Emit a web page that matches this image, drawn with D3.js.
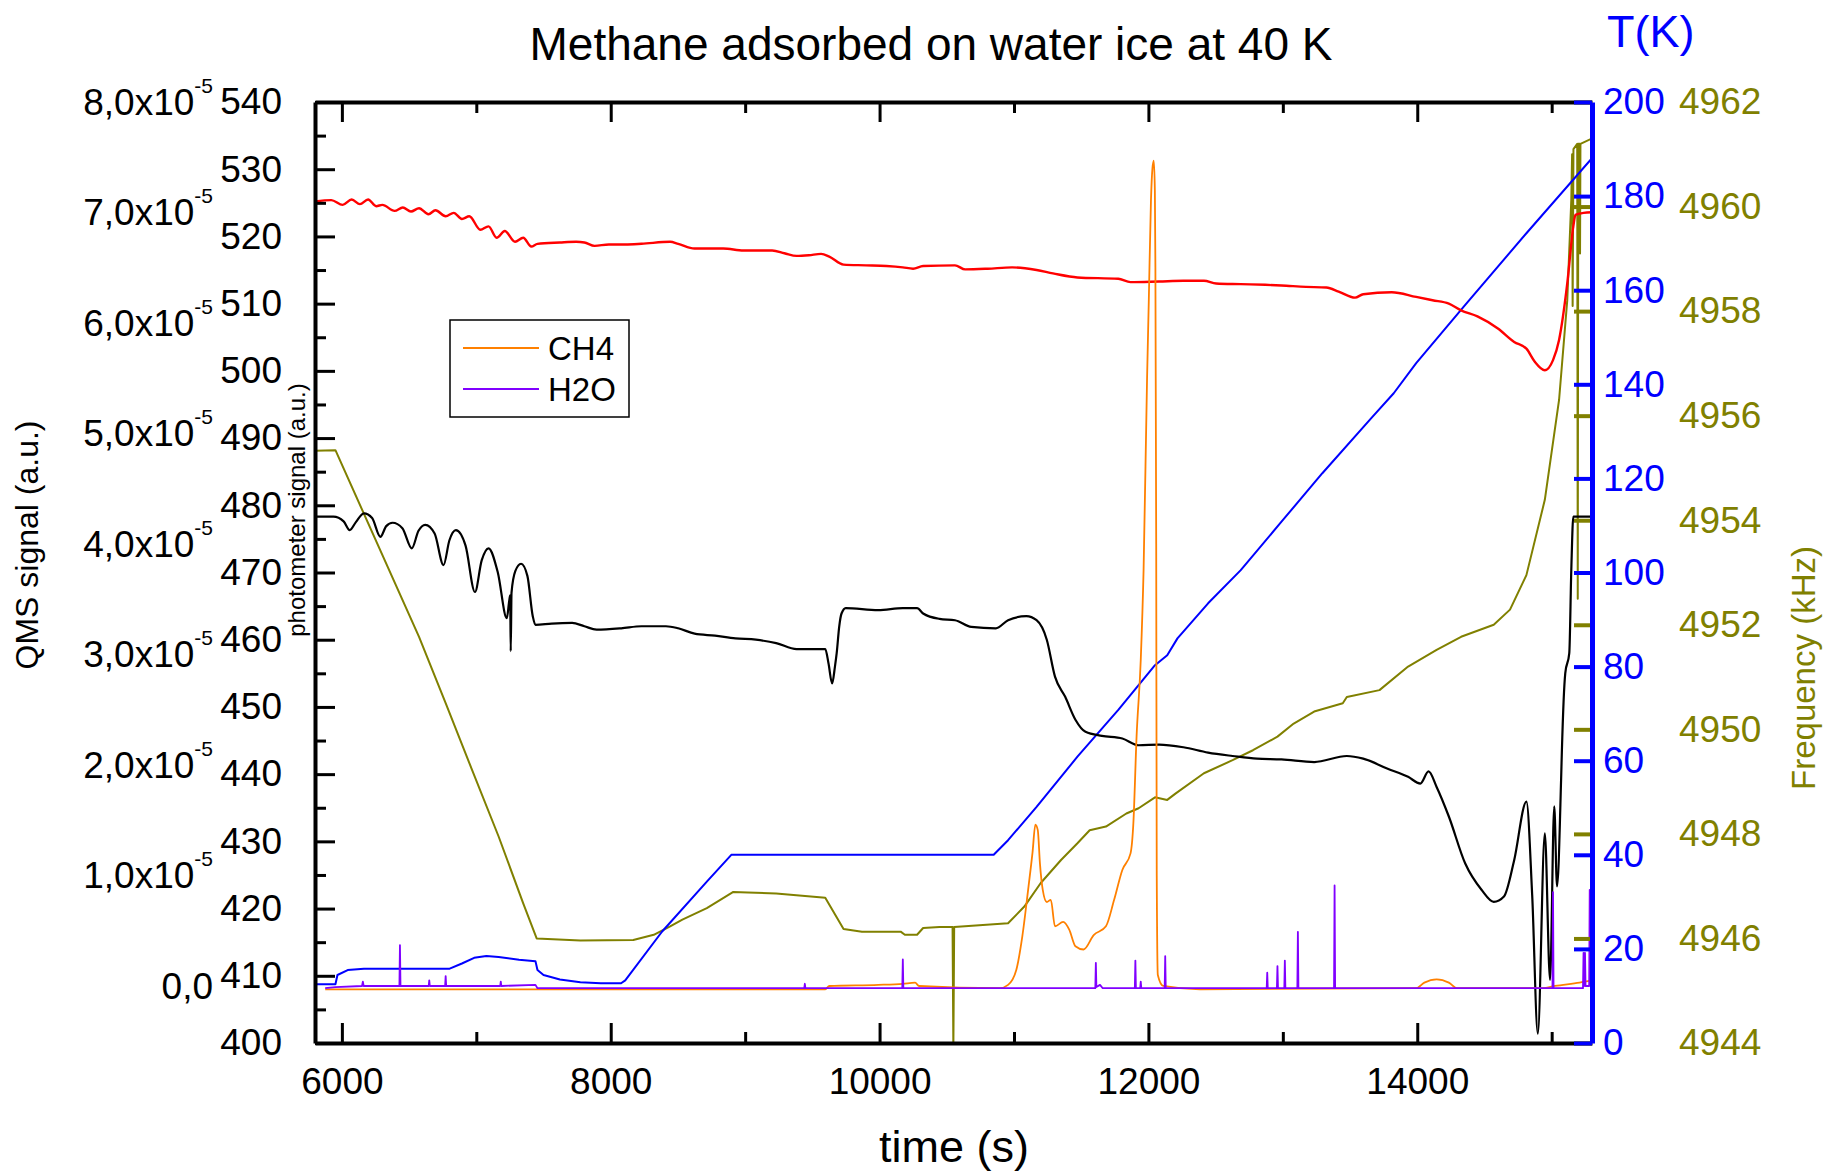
<!DOCTYPE html>
<html><head><meta charset="utf-8">
<script src="https://cdn.jsdelivr.net/npm/d3@7"></script>
<style>body{margin:0;background:#fff}svg{display:block}text{font-family:"Liberation Sans",Arial,sans-serif}</style>
</head><body>
<script>
// ---------- data ----------
const xTicks = [6000, 8000, 10000, 12000, 14000];
const xMinorTicks = [7000, 9000, 11000, 13000, 15000];
const photTicks = [400,410,420,430,440,450,460,470,480,490,500,510,520,530,540];
const photMinorTicks = [405,415,425,435,445,455,465,475,485,495,505,515,525,535];
const qmsTicks = [0,1,2,3,4,5,6,7,8];          // x10^-5
const tempTicks = [0,20,40,60,80,100,120,140,160,180,200];
const freqTicks = [4944,4946,4948,4950,4952,4954,4956,4958,4960,4962];

// photometer signal (red trace), [time s, a.u.]
const photRed = [[5800,525.2],[5921,525.4],[6006,524.7],[6073,525.5],[6134,524.8],[6195,525.5],[6255,524.5],[6301,524.7],[6392,523.8],[6453,524.3],[6514,523.7],[6574,524.2],[6644,523.3],[6696,523.9],[6772,523.0],[6832,523.5],[6893,522.6],[6948,523.0],[7030,521.0],[7091,521.5],[7151,519.8],[7212,520.8],[7288,519.2],[7349,519.8],[7409,518.5],[7455,518.9],[7622,519.1],[7743,519.2],[7804,519.1],[7880,518.6],[7986,518.8],[8108,518.8],[8229,518.9],[8442,519.2],[8502,518.9],[8624,518.2],[8837,518.2],[8988,517.9],[9201,517.9],[9292,517.5],[9383,517.1],[9474,517.2],[9565,517.4],[9626,517.0],[9732,515.8],[9899,515.7],[10051,515.6],[10173,515.4],[10249,515.2],[10324,515.6],[10561,515.7],[10637,515.1],[10804,515.2],[10986,515.4],[11168,515.0],[11290,514.5],[11472,513.9],[11776,513.7],[11867,513.2],[12079,513.3],[12261,513.4],[12413,513.4],[12504,513.0],[12687,512.9],[12869,512.8],[12990,512.7],[13172,512.5],[13324,512.4],[13415,511.8],[13537,510.9],[13598,511.4],[13810,511.7],[13992,511.0],[14114,510.5],[14235,510.0],[14326,509.0],[14448,508.1],[14600,506.3],[14721,504.3],[14812,503.3],[14873,501.4],[14949,500.1],[15010,501.6],[15055,504.6],[15116,513.0],[15161,521.5],[15177,523.2],[15237,523.5],[15298,523.6]];

// photometer signal (black trace)
const photBlack = [[5800,478.3],[5937,478.3],[6013,477.6],[6058,476.3],[6104,477.5],[6164,478.8],[6225,478.1],[6286,475.3],[6330,476.9],[6377,477.4],[6450,476.6],[6520,473.6],[6570,476.2],[6620,477.1],[6690,475.8],[6756,471.1],[6800,474.8],[6848,476.3],[6920,474.0],[6990,467.1],[7040,471.8],[7091,473.6],[7160,470.0],[7227,463.2],[7245,465.8],[7252,466.6],[7256,458.3],[7262,467.0],[7290,470.2],[7333,471.3],[7380,469.5],[7420,463.5],[7440,462.2],[7561,462.4],[7713,462.5],[7804,462.0],[7895,461.5],[8078,461.7],[8229,462.0],[8411,462.0],[8502,461.7],[8624,460.9],[8776,460.6],[8928,460.2],[9080,460.0],[9231,459.5],[9383,458.6],[9596,458.6],[9620,456.5],[9647,453.5],[9668,456.0],[9681,458.0],[9700,462.0],[9717,463.9],[9748,464.7],[9990,464.4],[10173,464.7],[10279,464.7],[10324,463.9],[10446,463.1],[10561,462.9],[10682,461.9],[10865,461.7],[10956,462.9],[11092,463.5],[11168,462.9],[11244,460.0],[11305,454.5],[11381,451.5],[11457,448.1],[11532,446.3],[11654,445.7],[11806,445.3],[11927,444.3],[12079,444.4],[12261,444.0],[12444,443.2],[12626,442.7],[12808,442.3],[12990,442.2],[13233,441.8],[13476,442.7],[13598,442.3],[13780,440.8],[13932,439.6],[14023,438.6],[14084,440.4],[14144,438.1],[14235,433.7],[14357,426.7],[14478,422.8],[14569,421.0],[14645,421.8],[14721,427.2],[14812,435.9],[14855,422.0],[14897,401.4],[14949,431.2],[14988,409.4],[15019,435.2],[15040,423.3],[15070,439.1],[15076,443.5],[15101,455.0],[15131,458.0],[15146,470.4],[15161,478.3],[15298,478.3]];

// QMS CH4 signal (x10^-5 a.u.)
const ch4 = [[5876,-0.03],[9596,-0.03],[9626,0.0],[9990,0.01],[10173,0.02],[10264,0.03],[10294,0.0],[10895,-0.02],[10956,0.01],[11017,0.145],[11062,0.45],[11108,0.90],[11138,1.21],[11159,1.46],[11177,1.41],[11193,1.11],[11214,0.87],[11244,0.76],[11274,0.78],[11305,0.54],[11366,0.58],[11411,0.51],[11457,0.36],[11518,0.33],[11593,0.46],[11684,0.54],[11745,0.78],[11806,1.05],[11867,1.20],[11888,1.47],[11912,2.26],[11943,2.95],[11964,3.76],[11990,5.5],[12003,6.21],[12019,7.11],[12030,7.4],[12040,7.47],[12048,7.2],[12052,6.5],[12058,4.0],[12062,1.0],[12070,0.1],[12110,0.0],[12383,-0.03],[13992,-0.02],[14053,0.03],[14144,0.06],[14235,0.03],[14296,-0.02],[14933,-0.02],[15025,0.0],[15207,0.03],[15298,0.05]];

// QMS H2O signal (x10^-5 a.u.)
const h2o = [[5876,-0.02],[5952,-0.01],[6150,0.0],[6156,0.04],[6162,0.0],[6428,0.0],[6432,0.37],[6436,0.0],[6646,0.0],[6650,0.05],[6654,0.0],[6768,0.0],[6772,0.09],[6776,0.0],[7178,0.0],[7182,0.04],[7186,0.0],[7440,0.01],[7455,-0.02],[9440,-0.02],[9444,0.02],[9448,-0.02],[10169,-0.02],[10173,0.24],[10177,-0.02],[11605,-0.02],[11609,0.21],[11613,-0.01],[11640,0.01],[11660,-0.02],[11899,-0.02],[11903,0.23],[11907,-0.02],[11939,-0.02],[11943,0.04],[11947,-0.02],[12121,-0.02],[12125,0.27],[12129,-0.02],[12880,-0.02],[12884,0.12],[12888,-0.02],[12956,-0.02],[12960,0.18],[12964,-0.02],[13011,-0.02],[13015,0.23],[13019,-0.02],[13108,-0.02],[13112,0.49],[13116,-0.02],[13381,-0.02],[13385,0.91],[13389,-0.02],[15006,-0.02],[15010,0.85],[15014,-0.02],[15233,-0.02],[15237,0.30],[15241,0.0],[15248,0.30],[15252,0.0],[15279,0.0],[15283,0.87],[15287,0.05],[15298,0.05]];

// temperature (K)
const temperature = [[5800,12.5],[5952,12.5],[5967,14.45],[6043,15.5],[6164,15.8],[6802,15.8],[6893,16.9],[6984,18.1],[7075,18.5],[7166,18.3],[7318,17.7],[7440,17.4],[7455,15.5],[7500,14.45],[7622,13.5],[7774,12.9],[7926,12.7],[8077,12.7],[8108,13.3],[8381,23.65],[8715,34.3],[8897,40.0],[10561,40.0],[10849,40.0],[10956,43.1],[11168,50.2],[11472,60.85],[11776,70.8],[12049,80.3],[12140,82.4],[12216,86.0],[12444,93.45],[12687,100.5],[12990,110.8],[13294,121.1],[13658,132.8],[13825,138.1],[13992,144.5],[14357,156.9],[14812,172.1],[15298,188.0]];

// QCM frequency (kHz)
const frequency = [[5800,4955.33],[5952,4955.34],[6574,4951.77],[6772,4950.50],[6969,4949.22],[7166,4947.95],[7349,4946.67],[7449,4946.00],[7774,4945.96],[8168,4945.97],[8320,4946.07],[8442,4946.23],[8533,4946.36],[8715,4946.58],[8912,4946.89],[9019,4946.88],[9231,4946.86],[9596,4946.78],[9732,4946.18],[9869,4946.13],[10157,4946.13],[10188,4946.07],[10279,4946.07],[10324,4946.20],[10446,4946.22],[10543,4946.22],[10549,4943.9],[10555,4946.22],[10956,4946.29],[11077,4946.61],[11199,4947.06],[11350,4947.50],[11472,4947.82],[11563,4948.07],[11684,4948.14],[11836,4948.39],[11927,4948.49],[12049,4948.70],[12140,4948.65],[12201,4948.77],[12413,4949.16],[12626,4949.41],[12778,4949.60],[12960,4949.86],[13081,4950.11],[13233,4950.34],[13446,4950.50],[13476,4950.62],[13719,4950.75],[13932,4951.20],[14144,4951.52],[14326,4951.77],[14569,4952.0],[14690,4952.29],[14812,4952.95],[14949,4954.39],[15055,4956.30],[15116,4958.21],[15146,4960.13],[15152,4961.0],[15156,4958.1],[15162,4961.1],[15190,4961.2],[15194,4952.5],[15198,4961.2],[15208,4961.2],[15211,4959.1],[15214,4961.2],[15298,4961.3]];

const legendItems = [["CH4","#ff8000"],["H2O","#8000ff"]];

// ---------- layout ----------
const W = 1826, H = 1175;
const L = 315, R = 1592, T = 102, B = 1043;
const OLIVE = "#808000", BLUE = "#0000ff";
const FS = 37;

const x = d3.scaleLinear().domain([5800, 15300]).range([L, R]);
const yPhot = d3.scaleLinear().domain([400, 540]).range([B, T]);
const yQ = d3.scaleLinear().domain([-0.516e-5, 8e-5]).range([B, T]);
const yT = d3.scaleLinear().domain([0, 200]).range([B, T]);
const yF = d3.scaleLinear().domain([4944, 4962]).range([B, T]);

const svg = d3.select("body").append("svg").attr("width", W).attr("height", H);
svg.append("rect").attr("width", W).attr("height", H).attr("fill", "#fff");

svg.append("clipPath").attr("id","clip").append("rect")
  .attr("x", L).attr("y", T).attr("width", R - L).attr("height", B - T);

function styleAxis(g, color, width, fs, showDomain) {
  g.selectAll(".tick line").attr("stroke", color).attr("stroke-width", width);
  g.selectAll(".tick text").attr("fill", color).attr("font-size", fs)
    .attr("font-family", '"Liberation Sans", Arial, sans-serif');
  if (showDomain) g.select(".domain").attr("stroke", color).attr("stroke-width", width + 1);
  else g.select(".domain").remove();
}

// ---------- data lines ----------
const gData = svg.append("g").attr("clip-path", "url(#clip)");
function drawLine(data, yScale, color, width, factor, curve) {
  const line = d3.line().x(d => x(d[0])).y(d => yScale(d[1] * factor)).curve(curve || d3.curveLinear);
  gData.append("path").datum(data).attr("d", line).attr("fill", "none")
    .attr("stroke", color).attr("stroke-width", width).attr("stroke-linejoin", "round");
}
drawLine(frequency, yF, OLIVE, 2, 1);
drawLine(temperature, yT, BLUE, 2, 1);
drawLine(photBlack, yPhot, "#000", 2.2, 1, d3.curveMonotoneX);
drawLine(photRed, yPhot, "#ff0000", 2.4, 1, d3.curveMonotoneX);
drawLine(ch4, yQ, "#ff8000", 1.8, 1e-5, d3.curveMonotoneX);
drawLine(h2o, yQ, "#8000ff", 1.8, 1e-5);

// ---------- axes ----------
// bottom
const gB = svg.append("g").attr("transform", `translate(0,${B})`)
  .call(d3.axisBottom(x).tickValues(xTicks).tickSizeInner(-20).tickSizeOuter(0).tickPadding(25).tickFormat(d3.format("d")));
styleAxis(gB, "#000", 3, FS, true);
const gBm = svg.append("g").attr("transform", `translate(0,${B})`)
  .call(d3.axisBottom(x).tickValues(xMinorTicks).tickSizeInner(-11).tickSizeOuter(0).tickFormat(() => ""));
styleAxis(gBm, "#000", 3, FS, false);
// top
const gTp = svg.append("g").attr("transform", `translate(0,${T})`)
  .call(d3.axisTop(x).tickValues(xTicks).tickSizeInner(-20).tickSizeOuter(0).tickFormat(() => ""));
styleAxis(gTp, "#000", 3, FS, true);
const gTm = svg.append("g").attr("transform", `translate(0,${T})`)
  .call(d3.axisTop(x).tickValues(xMinorTicks).tickSizeInner(-11).tickSizeOuter(0).tickFormat(() => ""));
styleAxis(gTm, "#000", 3, FS, false);
// left photometer
const gL = svg.append("g").attr("transform", `translate(${L},0)`)
  .call(d3.axisLeft(yPhot).tickValues(photTicks).tickSizeInner(-20).tickSizeOuter(0).tickPadding(33).tickFormat(d3.format("d")));
styleAxis(gL, "#000", 3, FS, true);
const gLm = svg.append("g").attr("transform", `translate(${L},0)`)
  .call(d3.axisLeft(yPhot).tickValues(photMinorTicks).tickSizeInner(-11).tickSizeOuter(0).tickFormat(() => ""));
styleAxis(gLm, "#000", 3, FS, false);
// QMS labels (no ticks of their own)
const gQ = svg.append("g");
qmsTicks.forEach(v => {
  const t = gQ.append("text").attr("x", 213).attr("y", yQ(v * 1e-5) + 13)
    .attr("text-anchor", "end").attr("font-size", FS).attr("fill", "#000");
  if (v === 0) { t.text("0,0"); }
  else {
    t.append("tspan").text(d3.format(".1f")(v).replace(".", ",") + "x10");
    t.append("tspan").attr("font-size", 21).attr("dy", -22).text("-5");
  }
});
// right: frequency (olive) then temperature (blue)
const gF = svg.append("g").attr("transform", `translate(${R},0)`)
  .call(d3.axisRight(yF).tickValues(freqTicks).tickSizeInner(-18).tickSizeOuter(0).tickPadding(87).tickFormat(d3.format("d")));
styleAxis(gF, OLIVE, 4, FS, false);
const gR = svg.append("g").attr("transform", `translate(${R},0)`)
  .call(d3.axisRight(yT).tickValues(tempTicks).tickSizeInner(-18).tickSizeOuter(0).tickPadding(11).tickFormat(d3.format("d")));
styleAxis(gR, BLUE, 4, FS, true);

// ---------- titles ----------
svg.append("text").attr("x", 931).attr("y", 60).attr("text-anchor", "middle")
  .attr("font-size", 46).text("Methane adsorbed on water ice at 40 K");
svg.append("text").attr("x", 954).attr("y", 1162).attr("text-anchor", "middle")
  .attr("font-size", 45).text("time (s)");
svg.append("text").attr("x", 1607).attr("y", 47).attr("font-size", 45).attr("fill", BLUE).text("T(K)");
svg.append("text").attr("transform", "translate(38,545) rotate(-90)").attr("text-anchor", "middle")
  .attr("font-size", 32).text("QMS signal (a.u.)");
svg.append("text").attr("transform", "translate(305,510) rotate(-90)").attr("text-anchor", "middle")
  .attr("font-size", 24).text("photometer signal (a.u.)");
svg.append("text").attr("transform", "translate(1815,668) rotate(-90)").attr("text-anchor", "middle")
  .attr("font-size", 33).attr("fill", OLIVE).text("Frequency (kHz)");

// ---------- legend ----------
const gLeg = svg.append("g");
gLeg.append("rect").attr("x", 450).attr("y", 320).attr("width", 179).attr("height", 97)
  .attr("fill", "#fff").attr("stroke", "#000").attr("stroke-width", 1.5);
legendItems.forEach((d, i) => {
  const yy = 348 + i * 41;
  gLeg.append("line").attr("x1", 463).attr("x2", 539).attr("y1", yy).attr("y2", yy)
    .attr("stroke", d[1]).attr("stroke-width", 1.8);
  gLeg.append("text").attr("x", 548).attr("y", yy + 12).attr("font-size", 33).text(d[0]);
});
</script>
</body></html>
